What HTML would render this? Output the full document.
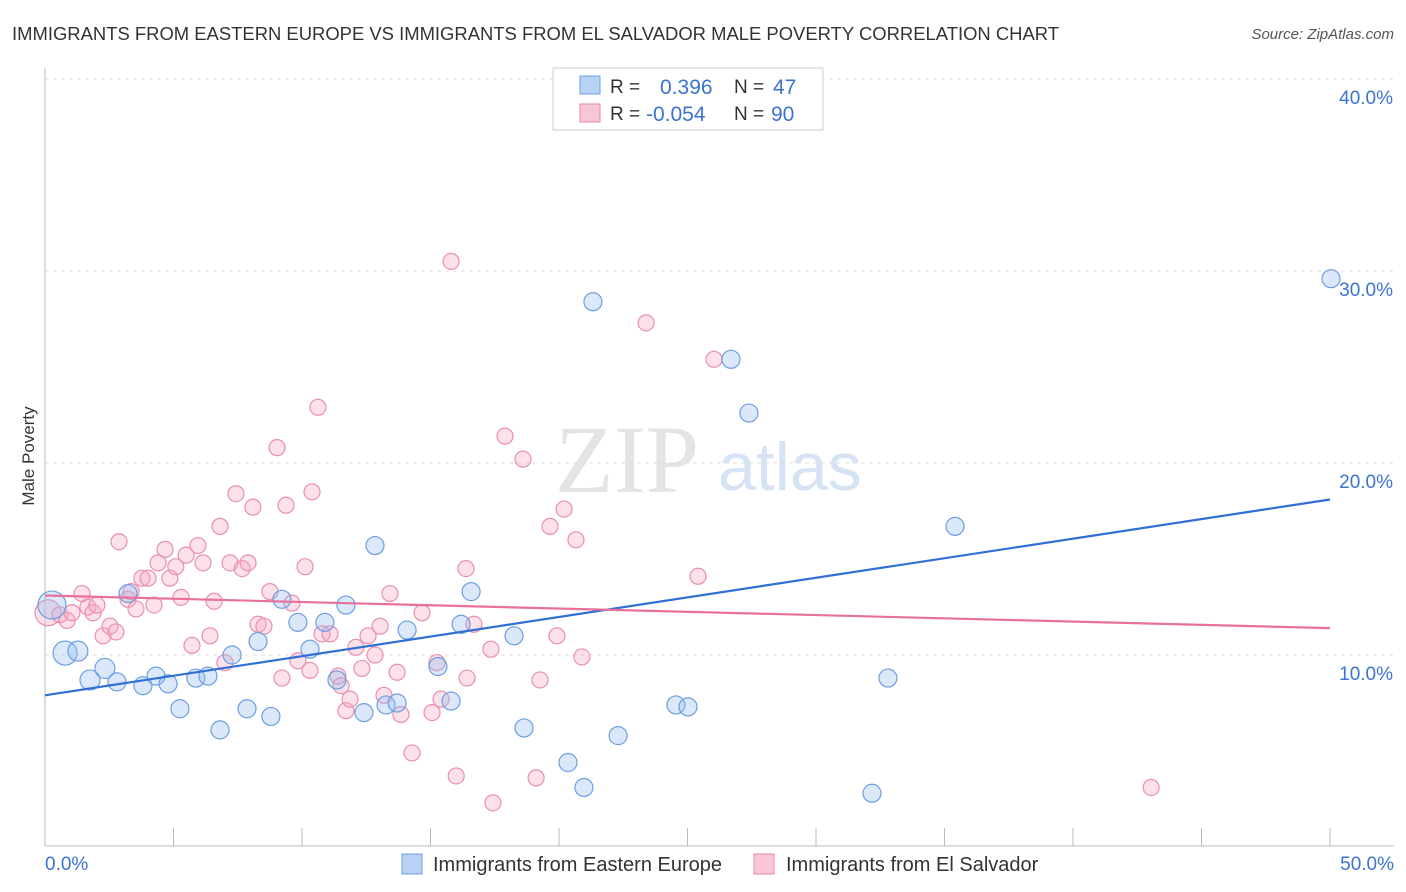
<!DOCTYPE html>
<html><head><meta charset="utf-8"><style>
body{margin:0;background:#fff;font-family:"Liberation Sans",sans-serif;}
svg{display:block}
</style></head><body>
<svg id="chart" width="1406" height="892">
<text x="12" y="40" font-size="18" fill="#333" textLength="1047" lengthAdjust="spacingAndGlyphs">IMMIGRANTS FROM EASTERN EUROPE VS IMMIGRANTS FROM EL SALVADOR MALE POVERTY CORRELATION CHART</text>
<text x="1394" y="39" font-size="15" fill="#555" font-style="italic" text-anchor="end">Source: ZipAtlas.com</text>
<text x="34" y="456" font-size="17" fill="#333" text-anchor="middle" transform="rotate(-90 34 456)">Male Poverty</text>
<text x="555" y="492" font-size="96" fill="#e4e4e4" font-family="Liberation Serif,serif">ZIP</text>
<text x="718" y="490" font-size="68" fill="#d6e3f5">atlas</text>
<g id="grid"></g><g id="axes"></g><g id="pts"></g><g id="trend"></g>
<g>
<rect x="553" y="68" width="270" height="62" fill="#fff" stroke="#ccc"/>
<rect x="580" y="76" width="20" height="18" fill="#b7d2f5" stroke="#6d9ee0"/>
<rect x="580" y="104" width="20" height="18" fill="#f9c6d6" stroke="#e88aa8"/>
<text x="610" y="93" font-size="19" fill="#333">R =</text><text x="660" y="94" font-size="21" fill="#3b73d1">0.396</text>
<text x="734" y="93" font-size="19" fill="#333">N =</text><text x="773" y="94" font-size="21" fill="#3b73d1">47</text>
<text x="610" y="120" font-size="19" fill="#333">R =</text><text x="646" y="121" font-size="21" fill="#3b73d1">-0.054</text>
<text x="734" y="120" font-size="19" fill="#333">N =</text><text x="771" y="121" font-size="21" fill="#3b73d1">90</text>
</g>
<g>
<rect x="402" y="854" width="20" height="20" fill="#b7d2f5" stroke="#6d9ee0"/>
<text x="433" y="871" font-size="20" fill="#333">Immigrants from Eastern Europe</text>
<rect x="754" y="854" width="20" height="20" fill="#f9c6d6" stroke="#e88aa8"/>
<text x="786" y="871" font-size="20" fill="#333">Immigrants from El Salvador</text>
</g>
</svg>
<script>
const xTicks=[0,5,10,15,20,25,30,35,40,45,50];
const yTicks=[10,20,30,40];
const blueX=[0.27,0.78,1.28,1.75,2.33,2.8,3.23,3.81,4.32,4.79,5.25,5.87,6.34,6.81,7.28,7.86,8.29,8.79,9.22,9.84,10.31,10.89,11.36,11.71,12.41,12.84,13.27,13.7,14.09,15.29,15.8,16.19,16.58,18.25,18.64,20.35,20.97,21.32,22.3,24.55,25.02,26.69,27.39,32.18,32.8,35.41,50.04];
const blueY=[12.6,10.1,10.2,8.7,9.3,8.6,13.2,8.4,8.9,8.5,7.2,8.8,8.9,6.1,10.0,7.2,10.7,6.8,12.9,11.7,10.3,11.7,8.7,12.6,7.0,15.7,7.4,7.5,11.3,9.4,7.6,11.6,13.3,11.0,6.2,4.4,3.1,28.4,5.8,7.4,7.3,25.4,22.6,2.8,8.8,16.7,29.6];
const blueR=[14,12,10,10,10,9,9,9,9,9,9,9,9,9,9,9,9,9,9,9,9,9,9,9,9,9,9,9,9,9,9,9,9,9,9,9,9,9,9,9,9,9,9,9,9,9,9];
const pinkX=[0.12,0.58,0.86,1.05,1.44,1.67,1.87,2.02,2.26,2.53,2.76,2.88,3.23,3.35,3.54,3.77,4.01,4.24,4.4,4.67,4.86,5.09,5.29,5.49,5.72,5.95,6.15,6.42,6.58,6.81,7.0,7.2,7.43,7.67,7.9,8.09,8.29,8.52,8.75,9.03,9.22,9.38,9.61,9.84,10.12,10.31,10.39,10.62,10.78,11.09,11.4,11.52,11.71,11.87,12.1,12.33,12.57,12.84,13.04,13.19,13.42,13.7,13.85,14.28,14.67,15.06,15.25,15.41,15.8,16.0,16.38,16.42,16.69,17.35,17.43,17.9,18.6,19.11,19.26,19.65,19.92,20.2,20.66,20.89,23.39,25.41,26.03,43.04];
const pinkY=[12.2,12.1,11.8,12.2,13.2,12.5,12.2,12.6,11.0,11.5,11.2,15.9,12.9,13.3,12.4,14.0,14.0,12.6,14.8,15.5,14.0,14.6,13.0,15.2,10.5,15.7,14.8,11.0,12.8,16.7,9.6,14.8,18.4,14.5,14.8,17.7,11.6,11.5,13.3,20.8,8.8,17.8,12.7,9.7,14.6,9.2,18.5,22.9,11.1,11.1,8.9,8.4,7.1,7.7,10.4,9.3,11.0,10.0,11.5,7.9,13.2,9.1,6.9,4.9,12.2,7.0,9.6,7.7,30.5,3.7,14.5,8.8,11.6,10.3,2.3,21.4,20.2,3.6,8.7,16.7,11.0,17.6,16.0,9.9,27.3,14.1,25.4,3.1];
const trendBlue=[7.9,18.1];
const trendPink=[13.1,11.4];
const X=v=>45+v/50*1285, Y=v=>847-v*19.2;
const ns="http://www.w3.org/2000/svg";
function mk(t,a,p){const e=document.createElementNS(ns,t);for(const k in a)e.setAttribute(k,a[k]);p.appendChild(e);return e;}
const grid=document.getElementById('grid'),axes=document.getElementById('axes'),pts=document.getElementById('pts'),tr=document.getElementById('trend');
yTicks.forEach(t=>{
 const l=mk('line',{x1:45,x2:1394,y1:Y(t),y2:Y(t),stroke:'#ddd','stroke-dasharray':'4,4'},grid);
 
 
 const tx=mk('text',{x:1393,y:Y(t)+25,'font-size':19,fill:'#3b73d1','text-anchor':'end'},axes);tx.textContent=t.toFixed(1)+'%';
 
 
});
let a=mk('line',{x1:45,x2:45,y1:68,y2:846,stroke:'#bbb'},axes);


a=mk('line',{x1:45,x2:1394,y1:846,y2:846,stroke:'#bbb'},axes);


xTicks.forEach(t=>{const l=mk('line',{x1:X(t),x2:X(t),y1:828,y2:846,stroke:'#bbb'},axes);
 
 });
[[0,'0.0%','start',45],[50,'50.0%','end',1394]].forEach(d=>{const tx=mk('text',{x:d[3],y:870,'font-size':19,fill:'#3b73d1','text-anchor':d[2]},axes);tx.textContent=d[1];
 
 });
pinkX.forEach((x,i)=>{const c=mk('circle',{cx:X(x),cy:Y(pinkY[i]),r:i==0?13:8,fill:'rgba(246,170,196,0.35)',stroke:'#e98fae','stroke-width':1.2},pts);
 
 });
blueX.forEach((x,i)=>{const c=mk('circle',{cx:X(x),cy:Y(blueY[i]),r:blueR[i],fill:'rgba(150,190,240,0.35)',stroke:'#6d9ee0','stroke-width':1.2},pts);
 
 });
let t1=mk('line',{x1:X(0),x2:X(50),y1:Y(trendBlue[0]),y2:Y(trendBlue[1]),stroke:'#2f6fd6','stroke-width':2.2},tr);


let t2=mk('line',{x1:X(0),x2:X(50),y1:Y(trendPink[0]),y2:Y(trendPink[1]),stroke:'#e8709a','stroke-width':2.2},tr);


</script>
</body></html>
